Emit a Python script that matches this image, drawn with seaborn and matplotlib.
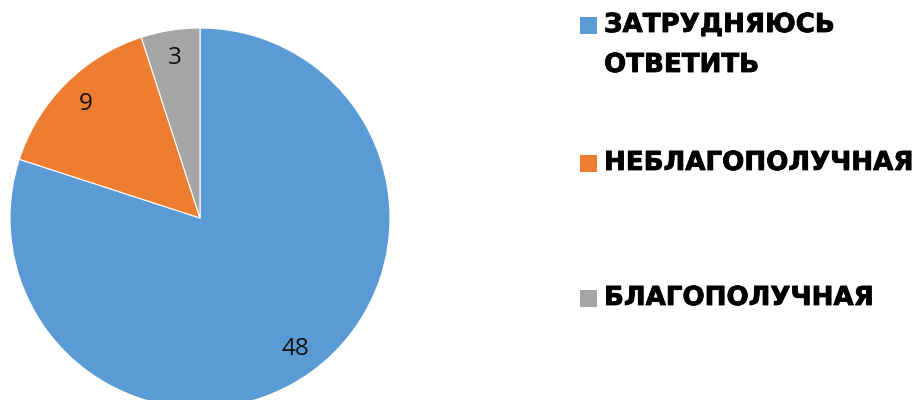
import matplotlib
matplotlib.use('Agg')
import matplotlib.pyplot as plt
import matplotlib.patheffects as pe
from matplotlib.patches import Rectangle
import seaborn as sns

# Data
categories = ['ЗАТРУДНЯЮСЬ\nОТВЕТИТЬ', 'НЕБЛАГОПОЛУЧНАЯ', 'БЛАГОПОЛУЧНАЯ']
values = [48, 9, 3]
colors = ['#5B9BD5', '#ED7D31', '#A5A5A5']

sns.set_style('white')
plt.rcParams['font.family'] = ['DejaVu Sans']

fig = plt.figure(figsize=(9.18, 4.0), dpi=100)
fig.patch.set_facecolor('white')

# ── Pie ───────────────────────────────────────────────────────
ax = fig.add_axes([10 / 918, -8 / 400, 380 / 918, 380 / 400])
wedges, texts = ax.pie(values, colors=colors, startangle=90, counterclock=False,
                       labels=[str(v) for v in values], labeldistance=0.85,
                       radius=1.0,
                       wedgeprops=dict(edgecolor='white', linewidth=0.8))
for t in texts:
    t.set_ha('center')
    t.set_va('center')
    t.set_fontsize(17.5)
    t.set_color('#111111')
    t.set_family(['Open Sans', 'DejaVu Sans'])
ax.set_xlim(-1, 1)
ax.set_ylim(-1, 1)
ax.set_aspect('equal')
ax.axis('off')

# ── Legend (manual) ───────────────────────────────────────────
legend_y = [25, 163, 298]   # pixel centres of first text line
for cat, col, y in zip(categories, colors, legend_y):
    fy = 1 - y / 400
    fig.patches.append(Rectangle((580 / 918, fy - 8.5 / 400), 17 / 918, 17 / 400,
                                 transform=fig.transFigure, facecolor=col,
                                 edgecolor='none'))
    fig.text(604 / 918, fy + 13 / 400, cat, ha='left', va='top',
             fontsize=18.8, fontweight='bold', color='black',
             linespacing=1.7, transform=fig.transFigure,
             path_effects=[pe.withStroke(linewidth=0.6, foreground='black')])

fig.savefig('out.png', dpi=100, facecolor='white')
